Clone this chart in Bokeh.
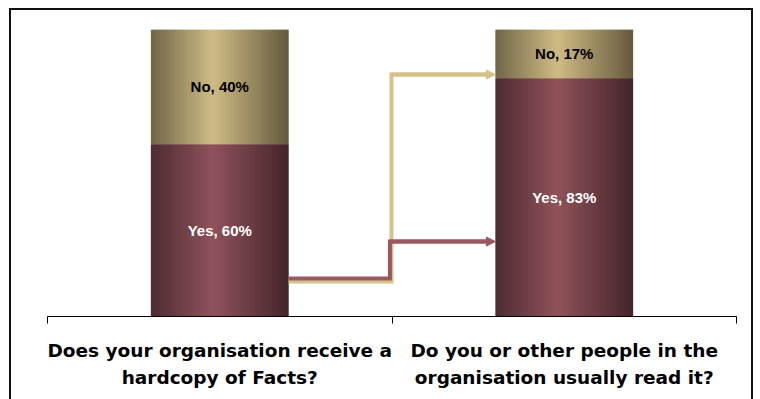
import numpy as np
from bokeh.plotting import figure
from bokeh.models import (Range1d, FixedTicker, LinearAxis, Arrow, NormalHead,
                          ColumnDataSource)
from bokeh.core.properties import value
from bokeh.embed import file_html
from bokeh.resources import INLINE

# --- data -------------------------------------------------------------
questions = [
    "Does your organisation receive a\nhardcopy of Facts?",
    "Do you or other people in the\norganisation usually read it?",
]
yes_pct = [60, 83]
no_pct = [40, 17]

# --- styling ----------------------------------------------------------
BAR_W = 0.4
STRIPS = 60
PEAK = 0.45
YES_SHADE = ((0x4d, 0x2b, 0x33), (0x90, 0x53, 0x5a), (0x44, 0x24, 0x2b))
NO_SHADE = ((0x70, 0x66, 0x47), (0xcf, 0xbb, 0x85), (0x64, 0x5a, 0x3c))
MAROON = "#9a5961"
TAN = "#d4c28a"
CAT_FONT = "DejaVu Sans"


def shade(t, ramp):
    left, light, right = ramp
    if t < PEAK:
        f, a, b = t / PEAK, left, light
    else:
        f, a, b = (t - PEAK) / (1 - PEAK), light, right
    return "#%02x%02x%02x" % tuple(round(a[i] + (b[i] - a[i]) * f) for i in range(3))


# The chart area sits inside a dark frame drawn round the figure element.
p = figure(width=740, height=389, output_backend="svg", toolbar_location=None,
           x_range=Range1d(-0.5, 1.5), y_range=Range1d(0, 100),
           min_border_left=36, min_border_right=15, min_border_top=19,
           min_border_bottom=83)
p.margin = (10, 0, 0, 11)
p.styles = {"box-shadow": "0 0 0 2px #111111"}
p.outline_line_color = None
p.grid.visible = False
p.yaxis.visible = False
p.background_fill_color = "white"
p.border_fill_color = "white"

# --- cylinder-shaded stacked bars, drawn as thin overlapping strips ----
lefts, rights, bots, tops, cols = [], [], [], [], []
dw = BAR_W / STRIPS
for i in range(len(questions)):
    bar_left, bar_right = i - BAR_W / 2, i + BAR_W / 2
    for k in range(STRIPS):
        t = (k + 0.5) / STRIPS
        l = bar_left + k * dw
        r = min(bar_left + (k + 1.8) * dw, bar_right)
        for bottom, top, ramp in ((0, yes_pct[i], YES_SHADE),
                                  (yes_pct[i], yes_pct[i] + no_pct[i], NO_SHADE)):
            lefts.append(l)
            rights.append(r)
            bots.append(bottom)
            tops.append(top)
            cols.append(shade(t, ramp))
strips = ColumnDataSource(dict(left=lefts, right=rights, bottom=bots, top=tops, c=cols))
p.quad(left="left", right="right", bottom="bottom", top="top", source=strips,
       fill_color="c", line_color=None)

# --- segment labels ---------------------------------------------------
idx = list(range(len(questions)))
p.text(x=idx, y=[v / 2 for v in yes_pct],
       text=[f"Yes, {v}%" for v in yes_pct], text_color="white",
       text_font=value("Liberation Sans"), text_font_style="bold",
       text_font_size="15px", text_align="center", text_baseline="middle")
p.text(x=idx, y=[y + n / 2 for y, n in zip(yes_pct, no_pct)],
       text=[f"No, {v}%" for v in no_pct], text_color="black",
       text_font=value("Liberation Sans"), text_font_style="bold",
       text_font_size="15px", text_align="center", text_baseline="middle")

# --- connector arrows from the first bar to the second ----------------
x_from = 0 + BAR_W / 2
x_to = 1 - BAR_W / 2
paths = [
    (TAN, 0.4985, 12.2, 84.3),
    (MAROON, 0.494, 13.2, 26.1),
]
for color, x_mid, y_low, y_high in paths:
    p.line([x_from, x_mid, x_mid, x_to - 0.02], [y_low, y_low, y_high, y_high],
           line_color=color, line_width=4, line_join="miter", line_cap="butt")
    p.add_layout(Arrow(end=NormalHead(size=9, fill_color=color, line_color=color),
                       x_start=x_mid, y_start=y_high, x_end=x_to, y_end=y_high,
                       line_color=color, line_width=4))

# --- category axis: boundary ticks, two-line question labels ----------
line1 = {i: q.split("\n")[0] for i, q in enumerate(questions)}
line2 = {i: q.split("\n")[1] for i, q in enumerate(questions)}

ax = p.xaxis[0]
ax.ticker = FixedTicker(ticks=idx, minor_ticks=[-0.5, 0.5, 1.5])
ax.major_label_overrides = line1
ax.major_tick_line_color = None
ax.major_tick_in = 0
ax.major_tick_out = 0
ax.minor_tick_in = 0
ax.minor_tick_out = 7
ax.minor_tick_line_color = "black"
ax.minor_tick_line_width = 1
ax.axis_line_color = "black"
ax.axis_line_width = 1
ax.major_label_standoff = 16

ax2 = LinearAxis(ticker=FixedTicker(ticks=idx), major_label_overrides=line2,
                 axis_line_color=None, major_tick_line_color=None,
                 minor_tick_line_color=None, major_tick_in=0, major_tick_out=0,
                 major_label_standoff=3)
p.add_layout(ax2, "below")

for a in (ax, ax2):
    a.major_label_text_font = CAT_FONT
    a.major_label_text_font_style = "bold"
    a.major_label_text_font_size = "18.5px"
    a.major_label_text_color = "black"

open("out.html", "w").write(file_html(p, INLINE))
